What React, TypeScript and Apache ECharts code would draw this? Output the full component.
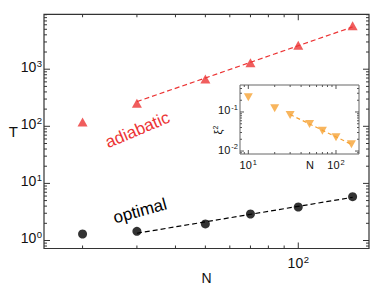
import React, { useEffect, useRef } from 'react';
import * as echarts from 'echarts';

// ---- main plot data ----
const nValues = [20, 30, 50, 70, 100, 150];
const adiabaticT = [119, 253, 673, 1300, 2620, 5760];
const optimalT = [1.3, 1.45, 1.95, 2.91, 3.86, 5.85];
const adiabaticFitN = [30, 150];
const adiabaticFitT = [270, 5500];
const optimalFitN = [30, 150];
const optimalFitT = [1.34, 5.7];

// ---- inset data ----
const insetN = [10, 20, 30, 50, 70, 100, 150];
const insetXi2 = [0.238, 0.124, 0.084, 0.049, 0.033, 0.0224, 0.015];
const insetFitN = [30, 150];
const insetFitXi2 = [0.086, 0.0148];

// ---- axis extents ----
const mainX = [15, 169.5];
const mainY = [0.724, 9150];
const insetX = [8.04, 183];
const insetY = [0.0084, 0.49];

// ---- tick values (log minor ticks) ----
const mainXTicks = [20, 30, 40, 50, 60, 70, 80, 90, 100];
const mainYTicks = [
  0.8, 0.9,
  1, 2, 3, 4, 5, 6, 7, 8, 9,
  10, 20, 30, 40, 50, 60, 70, 80, 90,
  100, 200, 300, 400, 500, 600, 700, 800, 900,
  1000, 2000, 3000, 4000, 5000, 6000, 7000, 8000, 9000,
];
const insetXTicks = [9, 10, 20, 30, 40, 50, 60, 70, 80, 90, 100];
const insetYTicks = [
  0.009,
  0.01, 0.02, 0.03, 0.04, 0.05, 0.06, 0.07, 0.08, 0.09,
  0.1, 0.2, 0.3, 0.4,
];

const FONT = '"Liberation Sans", Arial, Helvetica, sans-serif';
const RED = '#ec3535';
const ORANGE = '#f6a235';

const isPow10 = (v: number) => {
  const l = Math.log10(v);
  return Math.abs(l - Math.round(l)) < 1e-9;
};

const powLabel = (v: number) => {
  if (!isPow10(v)) return '';
  return `{b|10}{s|${Math.round(Math.log10(v))}}`;
};

type Side = 'bottom' | 'top' | 'left' | 'right';

function tickSeries(xi: number, yi: number, side: Side, ticks: number[], fixed: number, major: number, minor: number, color: string, z: number) {
  return {
    type: 'scatter',
    xAxisIndex: xi,
    yAxisIndex: yi,
    silent: true,
    clip: false,
    z,
    symbol: 'rect',
    itemStyle: { color, opacity: 1 },
    emphasis: { disabled: true },
    data: ticks.map((v) => {
      const len = isPow10(v) ? major : minor;
      if (side === 'bottom') return { value: [v, fixed], symbolSize: [1, len], symbolOffset: [0, -len / 2] };
      if (side === 'top') return { value: [v, fixed], symbolSize: [1, len], symbolOffset: [0, len / 2] };
      if (side === 'left') return { value: [fixed, v], symbolSize: [len, 1], symbolOffset: [len / 2, 0] };
      return { value: [fixed, v], symbolSize: [len, 1], symbolOffset: [-len / 2, 0] };
    }),
  };
}

export default function App() {
  const ref = useRef<HTMLDivElement>(null);

  useEffect(() => {
    if (!ref.current) return;
    const chart = echarts.init(ref.current, undefined, { renderer: 'svg' });

    const mainRich = {
      b: { fontSize: 14, fontFamily: FONT, color: '#111' },
      s: { fontSize: 9.5, fontFamily: FONT, color: '#111', verticalAlign: 'top', padding: [0, 0, 7, 0.5] },
    };
    const insetRich = {
      b: { fontSize: 11, fontFamily: FONT, color: '#111' },
      s: { fontSize: 7.5, fontFamily: FONT, color: '#111', verticalAlign: 'top', padding: [0, 0, 6, 1] },
    };

    const option: any = {
      animation: false,
      backgroundColor: '#fff',
      grid: [
        { left: 44, top: 14.3, width: 325, height: 234.2, show: true, borderColor: '#333', borderWidth: 1.2, backgroundColor: 'transparent' },
        { left: 240, top: 85, width: 119, height: 69, show: true, borderColor: '#666', borderWidth: 1, backgroundColor: '#fff', z: 10 },
      ],
      xAxis: [
        {
          type: 'log', logBase: 10, gridIndex: 0, min: mainX[0], max: mainX[1],
          axisLine: { show: false }, axisTick: { show: false }, splitLine: { show: false },
          axisLabel: { formatter: powLabel, rich: mainRich, margin: 6, showMinLabel: false, showMaxLabel: false },
          name: 'N', nameLocation: 'middle', nameGap: 22, nameMoveOverlap: false,
          nameTextStyle: { fontSize: 14, fontFamily: FONT, color: '#111' },
        },
        {
          type: 'log', logBase: 10, gridIndex: 1, min: insetX[0], max: insetX[1],
          axisLine: { show: false }, axisTick: { show: false }, splitLine: { show: false },
          axisLabel: { formatter: powLabel, rich: insetRich, margin: 4, showMinLabel: false, showMaxLabel: false },
          name: 'N', nameLocation: 'middle', nameGap: 5, nameMoveOverlap: false,
          nameTextStyle: { fontSize: 11, fontFamily: FONT, color: '#111', padding: [0, 0, 0, 21] },
          z: 10,
        },
      ],
      yAxis: [
        {
          type: 'log', logBase: 10, gridIndex: 0, min: mainY[0], max: mainY[1],
          axisLine: { show: false }, axisTick: { show: false }, splitLine: { show: false },
          axisLabel: { formatter: powLabel, rich: mainRich, margin: 2, padding: [0, 0, 5, 0], showMinLabel: false, showMaxLabel: false },
          name: 'T', nameLocation: 'middle', nameGap: 26, nameRotate: 0, nameMoveOverlap: false,
          nameTextStyle: { fontSize: 15, fontFamily: FONT, color: '#111', padding: [0, 0, 20, 0] },
        },
        {
          type: 'log', logBase: 10, gridIndex: 1, min: insetY[0], max: insetY[1],
          axisLine: { show: false }, axisTick: { show: false }, splitLine: { show: false },
          axisLabel: { formatter: powLabel, rich: insetRich, margin: 2, padding: [0, 0, 3, 0], showMinLabel: false, showMaxLabel: false },
          name: '{a|ξ}{s|2}', nameLocation: 'middle', nameGap: 16, nameRotate: 90, nameMoveOverlap: false,
          nameTextStyle: {
            fontSize: 11, fontFamily: FONT, color: '#111', padding: [0, 21, 0, 0],
            rich: {
              a: { fontSize: 11, fontFamily: FONT, color: '#111' },
              s: { fontSize: 7, fontFamily: FONT, color: '#111', verticalAlign: 'top', padding: [0, 0, 5, 0] },
            },
          },
          z: 10,
        },
      ],
      graphic: [
        {
          type: 'text', x: 137.5, y: 130, rotation: (23 * Math.PI) / 180, z: 20,
          style: { text: 'adiabatic', fill: RED, font: `17px ${FONT}`, align: 'center', verticalAlign: 'middle' },
        },
        {
          type: 'text', x: 140, y: 211, rotation: (15.5 * Math.PI) / 180, z: 20,
          style: { text: 'optimal', fill: '#000', font: `17px ${FONT}`, align: 'center', verticalAlign: 'middle' },
        },
      ],
      series: [
        {
          type: 'line', xAxisIndex: 0, yAxisIndex: 0, symbol: 'none',
          data: adiabaticFitN.map((n, i) => [n, adiabaticFitT[i]]),
          lineStyle: { color: RED, width: 1.2, type: [5, 3] },
        },
        {
          type: 'line', xAxisIndex: 0, yAxisIndex: 0, symbol: 'none',
          data: optimalFitN.map((n, i) => [n, optimalFitT[i]]),
          lineStyle: { color: '#000', width: 1.2, type: [5, 3] },
        },
        {
          type: 'scatter', xAxisIndex: 0, yAxisIndex: 0, symbol: 'triangle', symbolSize: [10, 9],
          data: nValues.map((n, i) => [n, adiabaticT[i]]),
          itemStyle: { color: RED }, z: 3,
        },
        {
          type: 'scatter', xAxisIndex: 0, yAxisIndex: 0, symbol: 'circle', symbolSize: 9,
          data: nValues.map((n, i) => [n, optimalT[i]]),
          itemStyle: { color: '#000' }, z: 3,
        },
        {
          type: 'line', xAxisIndex: 1, yAxisIndex: 1, symbol: 'none',
          data: insetFitN.map((n, i) => [n, insetFitXi2[i]]),
          lineStyle: { color: ORANGE, width: 1.2, type: [4, 3] }, z: 11,
        },
        {
          type: 'scatter', xAxisIndex: 1, yAxisIndex: 1, symbol: 'triangle', symbolRotate: 180, symbolSize: [9, 8],
          data: insetN.map((n, i) => [n, insetXi2[i]]),
          itemStyle: { color: ORANGE }, z: 12,
        },
        tickSeries(0, 0, 'bottom', mainXTicks, mainY[0], 6, 3, '#333', 5),
        tickSeries(0, 0, 'top', mainXTicks, mainY[1], 6, 3, '#333', 5),
        tickSeries(0, 0, 'left', mainYTicks, mainX[0], 6, 3, '#333', 5),
        tickSeries(0, 0, 'right', mainYTicks, mainX[1], 6, 3, '#333', 5),
        tickSeries(1, 1, 'bottom', insetXTicks, insetY[0], 4, 2, '#555', 12),
        tickSeries(1, 1, 'top', insetXTicks, insetY[1], 4, 2, '#555', 12),
        tickSeries(1, 1, 'left', insetYTicks, insetX[0], 4, 2, '#555', 12),
        tickSeries(1, 1, 'right', insetYTicks, insetX[1], 4, 2, '#555', 12),
      ],
    };

    chart.setOption(option);
    return () => chart.dispose();
  }, []);

  return (
    <div
      ref={ref}
      style={{ position: 'absolute', left: 0, top: 0, width: 382, height: 295, background: '#fff' }}
    />
  );
}
